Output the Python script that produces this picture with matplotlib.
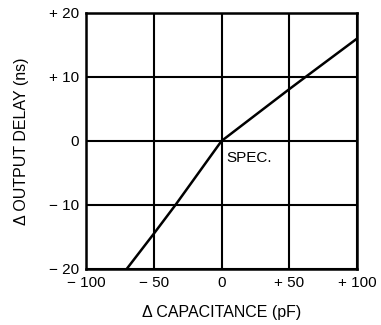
import matplotlib
matplotlib.use("Agg")
import matplotlib.pyplot as plt

# Data
cap_pf = [-70, -50, -34, 0, 50, 62, 100]
delay_ns = [-20, -14.5, -10, 0, 8.1, 10, 16]

x_ticks = [-100, -50, 0, 50, 100]
x_labels = ["\u2212 100", "\u2212 50", "0", "+ 50", "+ 100"]
y_ticks = [-20, -10, 0, 10, 20]
y_labels = ["\u2212 20", "\u2212 10", "0", "+ 10", "+ 20"]

plt.rcParams['font.family'] = ['Liberation Sans', 'DejaVu Sans']

fig = plt.figure(figsize=(3.81, 3.25), dpi=100)
ax = fig.add_axes([86/381, 1 - 269/325, 271/381, 256/325])

ax.plot(cap_pf, delay_ns, color='black', lw=1.8, solid_capstyle='butt')
ax.set_xlim(-100, 100)
ax.set_ylim(-20, 20)
ax.set_xticks(x_ticks)
ax.set_xticklabels(x_labels)
ax.set_yticks(y_ticks)
ax.set_yticklabels(y_labels)
ax.grid(True, color='black', lw=1.5)
ax.tick_params(length=0, labelsize=11, pad=5)
for s in ax.spines.values():
    s.set_linewidth(1.8)

ax.text(3.5, -2.6, "SPEC.", fontsize=11, va='center', ha='left')
ax.set_xlabel("\u0394 CAPACITANCE (pF)", fontsize=11.5, labelpad=11)
ax.set_ylabel("\u0394 OUTPUT DELAY (ns)", fontsize=11.5, labelpad=14)

fig.savefig("out.png", dpi=100)
